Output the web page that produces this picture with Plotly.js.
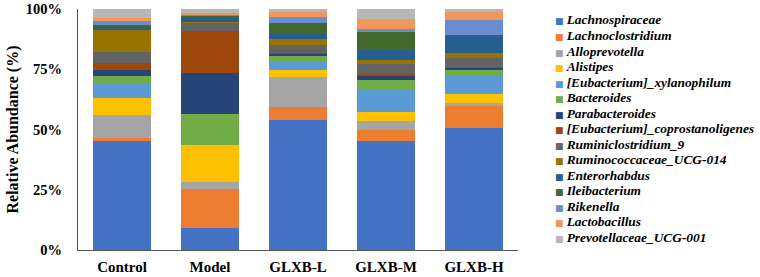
<!DOCTYPE html>
<html>
<head>
<meta charset="utf-8">
<script src="https://cdn.plot.ly/plotly-3.0.1.min.js"></script>
<style>html,body{margin:0;padding:0;background:#fff;}#chart{width:760px;height:277px;}</style>
</head>
<body>
<div id="chart"></div>
<script>
const groups = ["Control", "Model", "GLXB-L", "GLXB-M", "GLXB-H"];
const taxa = ["Lachnospiraceae", "Lachnoclostridium", "Alloprevotella", "Alistipes",
  "[Eubacterium]_xylanophilum", "Bacteroides", "Parabacteroides",
  "[Eubacterium]_coprostanoligenes", "Ruminiclostridium_9", "Ruminococcaceae_UCG-014",
  "Enterorhabdus", "Ileibacterium", "Rikenella", "Lactobacillus", "Prevotellaceae_UCG-001"];
const colors = ["#4472C4", "#ED7D31", "#A5A5A5", "#FFC000", "#5B9BD5", "#70AD47", "#264478",
  "#9E480E", "#636363", "#997300", "#255E91", "#43682B", "#698ED0", "#F1975A", "#B7B7B7"];
// relative abundance (%) per taxon, in order Control, Model, GLXB-L, GLXB-M, GLXB-H
const Lachnospiraceae = [45.1, 9.0, 53.9, 45.4, 50.8];
const Lachnoclostridium = [1.2, 16.5, 5.3, 4.4, 8.9];
const Alloprevotella = [9.9, 2.8, 12.5, 3.9, 1.25];
const Alistipes = [6.8, 15.1, 2.9, 3.75, 3.75];
const Xylanophilum = [6.4, 0.1, 3.6, 9.0, 7.5];
const Bacteroides = [2.6, 12.9, 2.4, 3.9, 2.6];
const Parabacteroides = [2.8, 16.9, 0.7, 1.7, 0.8];
const Coprostanoligenes = [2.8, 17.5, 0.3, 1.1, 0.5];
const Ruminiclostridium9 = [4.6, 3.2, 3.5, 3.9, 3.5];
const RuminococcaceaeUCG014 = [9.0, 0.8, 2.5, 1.7, 2.2];
const Enterorhabdus = [1.25, 1.9, 2.2, 4.4, 7.1];
const Ileibacterium = [1.0, 0.6, 4.2, 7.2, 0.3];
const Rikenella = [1.7, 0.3, 2.5, 1.5, 6.25];
const Lactobacillus = [1.25, 0.7, 2.2, 3.9, 3.3];
const PrevotellaceaeUCG001 = [3.6, 1.7, 1.4, 4.2, 1.1];
const values = [Lachnospiraceae, Lachnoclostridium, Alloprevotella, Alistipes, Xylanophilum,
  Bacteroides, Parabacteroides, Coprostanoligenes, Ruminiclostridium9, RuminococcaceaeUCG014,
  Enterorhabdus, Ileibacterium, Rikenella, Lactobacillus, PrevotellaceaeUCG001];
const yTicks = [0, 25, 50, 75, 100];

const serif = '"Liberation Serif", "Times New Roman", serif';
const traces = taxa.map((name, i) => ({
  type: 'bar', name: name, x: groups, y: values[i],
  marker: {color: colors[i], line: {width: 0}},
  hoverinfo: 'name+y', showlegend: false
}));

// layout geometry (pixels)
const W = 760, H = 277, mL = 78, mR = 242, mT = 9, mB = 27;
const plotW = W - mL - mR, plotH = H - mT - mB;
const legX = 553, legY0 = 20, legStep = 15.5;

const legendAnnotations = taxa.map((name, i) => ({
  xref: 'paper', yref: 'paper',
  x: (legX - mL) / plotW, y: (H - mB - (legY0 + i * legStep)) / plotH,
  xanchor: 'left', yanchor: 'middle', showarrow: false, align: 'left',
  text: '<span style="color:' + colors[i] + ';font-size:9px;font-style:normal;font-family:DejaVu Sans">■ </span>' + name,
  font: {family: serif, size: 13.4, weight: 'bold', style: 'italic', color: '#000'}
}));

const layout = {
  width: W, height: H,
  margin: {l: mL, r: mR, t: mT, b: mB, pad: 0},
  barmode: 'stack', bargap: 0.33,
  paper_bgcolor: '#fff', plot_bgcolor: '#fff',
  font: {family: serif, color: '#000'},
  showlegend: false,
  xaxis: {
    showline: true, linecolor: '#555', linewidth: 1, showgrid: false, zeroline: false,
    ticks: '', ticklabelstandoff: 3,
    tickfont: {family: serif, size: 15, weight: 'bold', color: '#000'}
  },
  yaxis: {
    range: [0, 100], tickvals: yTicks, ticktext: yTicks.map(v => v + '%'),
    showline: true, linecolor: '#555', linewidth: 1, showgrid: false, zeroline: false,
    ticks: '', ticklabelstandoff: 12,
    tickfont: {family: serif, size: 14.5, weight: 'bold', color: '#000'},
    title: {text: 'Relative Abundance (%)', standoff: 3,
      font: {family: serif, size: 16, weight: 'bold', color: '#000'}}
  },
  annotations: legendAnnotations
};

Plotly.newPlot('chart', traces, layout, {displayModeBar: false, staticPlot: true});
</script>
</body>
</html>
